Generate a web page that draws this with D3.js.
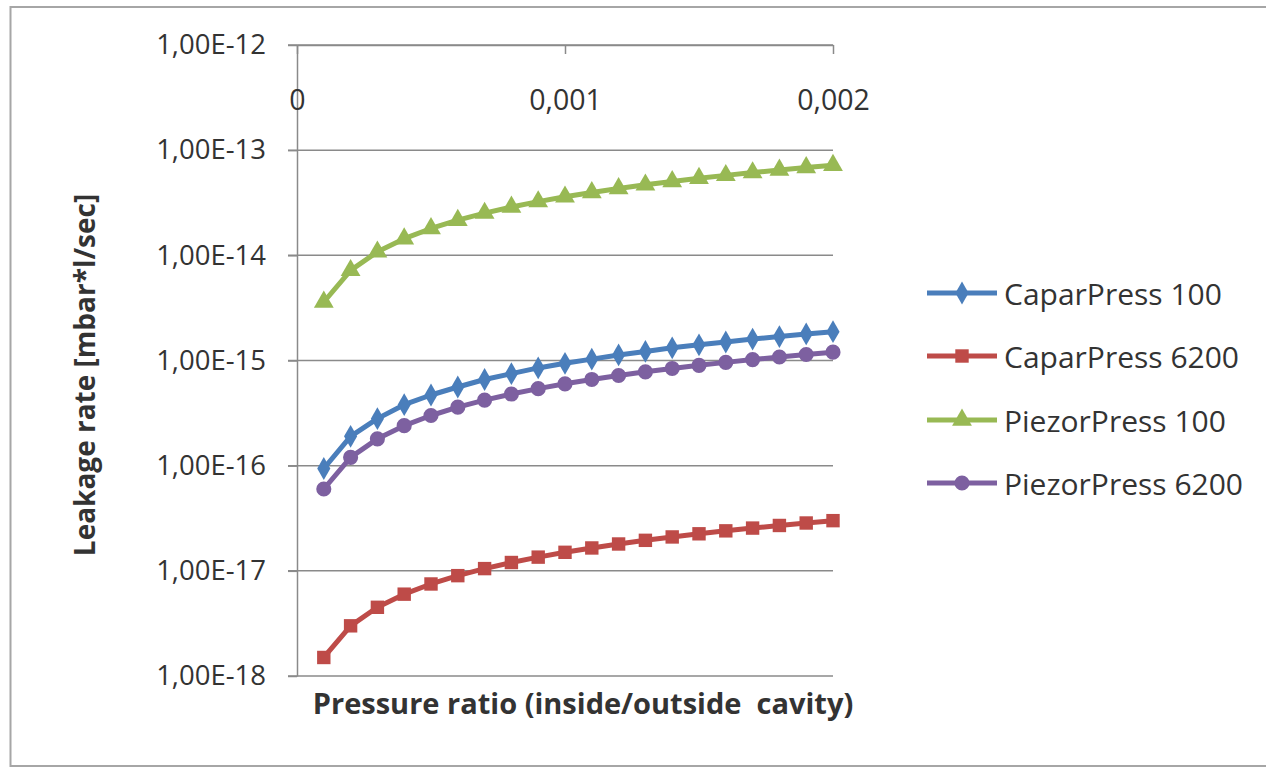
<!DOCTYPE html>
<html>
<head>
<meta charset="utf-8">
<script src="https://cdn.jsdelivr.net/npm/d3@7"></script>
<style>
  body { margin: 0; background: #fff; }
  svg { display: block; }
  text { fill: #333; }
</style>
</head>
<body>
<svg id="chart" width="1266" height="768"></svg>
<script>
// Data
let pressureRatio = [0.0001, 0.0002, 0.0003, 0.0004, 0.0005, 0.0006, 0.0007, 0.0008, 0.0009, 0.0010,
                     0.0011, 0.0012, 0.0013, 0.0014, 0.0015, 0.0016, 0.0017, 0.0018, 0.0019, 0.0020]

let caparPress100 = [9.4e-17, 1.9e-16, 2.8e-16, 3.8e-16, 4.7e-16, 5.6e-16, 6.6e-16, 7.5e-16, 8.5e-16, 9.4e-16,
                     1.03e-15, 1.13e-15, 1.22e-15, 1.32e-15, 1.41e-15, 1.5e-15, 1.6e-15, 1.69e-15, 1.79e-15, 1.88e-15]
let caparPress6200 = [1.5e-18, 3.0e-18, 4.5e-18, 6.0e-18, 7.5e-18, 9.0e-18, 1.05e-17, 1.2e-17, 1.35e-17, 1.5e-17,
                      1.65e-17, 1.8e-17, 1.95e-17, 2.1e-17, 2.25e-17, 2.4e-17, 2.55e-17, 2.7e-17, 2.85e-17, 3.0e-17]
let piezorPress100 = [3.6e-15, 7.2e-15, 1.08e-14, 1.44e-14, 1.8e-14, 2.16e-14, 2.52e-14, 2.88e-14, 3.24e-14, 3.6e-14,
                      3.96e-14, 4.32e-14, 4.68e-14, 5.04e-14, 5.4e-14, 5.76e-14, 6.12e-14, 6.48e-14, 6.84e-14, 7.2e-14]
let piezorPress6200 = [6.0e-17, 1.2e-16, 1.8e-16, 2.4e-16, 3.0e-16, 3.6e-16, 4.2e-16, 4.8e-16, 5.4e-16, 6.0e-16,
                       6.6e-16, 7.2e-16, 7.8e-16, 8.4e-16, 9.0e-16, 9.6e-16, 1.02e-15, 1.08e-15, 1.14e-15, 1.2e-15]

let seriesNames = ["CaparPress 100", "CaparPress 6200", "PiezorPress 100", "PiezorPress 6200"]
let seriesValues = [caparPress100, caparPress6200, piezorPress100, piezorPress6200]

let yTicks = [1e-12, 1e-13, 1e-14, 1e-15, 1e-16, 1e-17, 1e-18]
let yTickLabels = ["1,00E-12", "1,00E-13", "1,00E-14", "1,00E-15", "1,00E-16", "1,00E-17", "1,00E-18"]
let xTicks = [0, 0.001, 0.002]
let xTickLabels = ["0", "0,001", "0,002"]

// Styling
let colors = ["#4a7ebb", "#be4b48", "#98b954", "#7d60a0"]
let symbols = [d3.symbolDiamond, d3.symbolSquare, d3.symbolTriangle, d3.symbolCircle]
let symbolSizes = [150, 180, 170, 180]
let axisColor = "#8a8a8a"

let svg = d3.select("#chart")

// outer frame
svg.append("rect")
    .attr("x", 10.5).attr("y", 7)
    .attr("width", 1270).attr("height", 759)
    .attr("fill", "#fff")
    .attr("stroke", "#a6a6a6")
    .attr("stroke-width", 2)

let plotL = 297, plotR = 833, plotT = 45, plotB = 676

let x = d3.scaleLinear().domain([0, 0.002]).range([plotL, plotR])
let y = d3.scaleLog().domain([1e-18, 1e-12]).range([plotB, plotT])

// horizontal gridlines
svg.append("g").selectAll("line")
    .data(yTicks)
    .enter()
    .append("line")
    .attr("x1", plotL - 9).attr("x2", plotR)
    .attr("y1", d => y(d)).attr("y2", d => y(d))
    .attr("stroke", axisColor)
    .attr("stroke-width", 1.5)

// y axis
let yAxis = svg.append("g")
    .attr("transform", `translate(${plotL},0)`)
    .call(d3.axisLeft(y)
        .tickValues(yTicks)
        .tickFormat((d, i) => yTickLabels[i])
        .tickSize(9)
        .tickSizeOuter(0)
        .tickPadding(22))
yAxis.selectAll("path, line").attr("stroke", axisColor).attr("stroke-width", 1.5)
yAxis.selectAll("text")
    .attr("font-family", "Open Sans")
    .attr("font-size", 27.5)
    .attr("fill", "#2b2b2b")

// x axis, drawn along the top
let xAxis = svg.append("g")
    .attr("transform", `translate(0,${plotT})`)
    .call(d3.axisBottom(x)
        .tickValues(xTicks)
        .tickFormat((d, i) => xTickLabels[i])
        .tickSize(9)
        .tickSizeOuter(0)
        .tickPadding(36))
xAxis.selectAll("path, line").attr("stroke", axisColor).attr("stroke-width", 1.5)
xAxis.selectAll("text")
    .attr("font-family", "Open Sans")
    .attr("font-size", 28.5)
    .attr("fill", "#2b2b2b")

// series lines + markers
let line = d3.line()
    .x((d, i) => x(pressureRatio[i]))
    .y(d => y(d))

seriesValues.forEach((vals, s) => {
    let g = svg.append("g")
    g.append("path")
        .attr("d", line(vals))
        .attr("fill", "none")
        .attr("stroke", colors[s])
        .attr("stroke-width", 5)
        .attr("stroke-linejoin", "round")
    g.selectAll("path.mark")
        .data(vals)
        .enter()
        .append("path")
        .attr("class", "mark")
        .attr("transform", (d, i) => `translate(${x(pressureRatio[i])},${y(d)})`)
        .attr("d", d3.symbol().type(symbols[s]).size(symbolSizes[s]))
        .attr("fill", colors[s])
})

// axis titles
svg.append("text")
    .attr("x", 583).attr("y", 714)
    .attr("text-anchor", "middle")
    .attr("font-family", "Open Sans")
    .attr("font-weight", "bold")
    .attr("font-size", 29)
    .style("white-space", "pre")
    .attr("fill", "#1a1a1a")
    .text("Pressure ratio (inside/outside  cavity)")

svg.append("text")
    .attr("transform", "translate(84,375) rotate(-90)")
    .attr("text-anchor", "middle")
    .attr("dominant-baseline", "central")
    .attr("font-family", "Open Sans")
    .attr("font-weight", "bold")
    .attr("font-size", 28)
    .attr("fill", "#1a1a1a")
    .text("Leakage rate [mbar*l/sec]")

// legend
let legendRows = [293, 356, 420, 483]
let legend = svg.append("g")
seriesNames.forEach((name, s) => {
    let ly = legendRows[s]
    legend.append("line")
        .attr("x1", 927).attr("x2", 997)
        .attr("y1", ly).attr("y2", ly)
        .attr("stroke", colors[s])
        .attr("stroke-width", 5)
    legend.append("path")
        .attr("transform", `translate(962,${ly})`)
        .attr("d", d3.symbol().type(symbols[s]).size(symbolSizes[s]))
        .attr("fill", colors[s])
    legend.append("text")
        .attr("x", 1004).attr("y", ly)
        .attr("dominant-baseline", "central")
        .attr("font-family", "Open Sans")
        .attr("font-size", 30)
        .attr("fill", "#2b2b2b")
        .text(name)
})
</script>
</body>
</html>
